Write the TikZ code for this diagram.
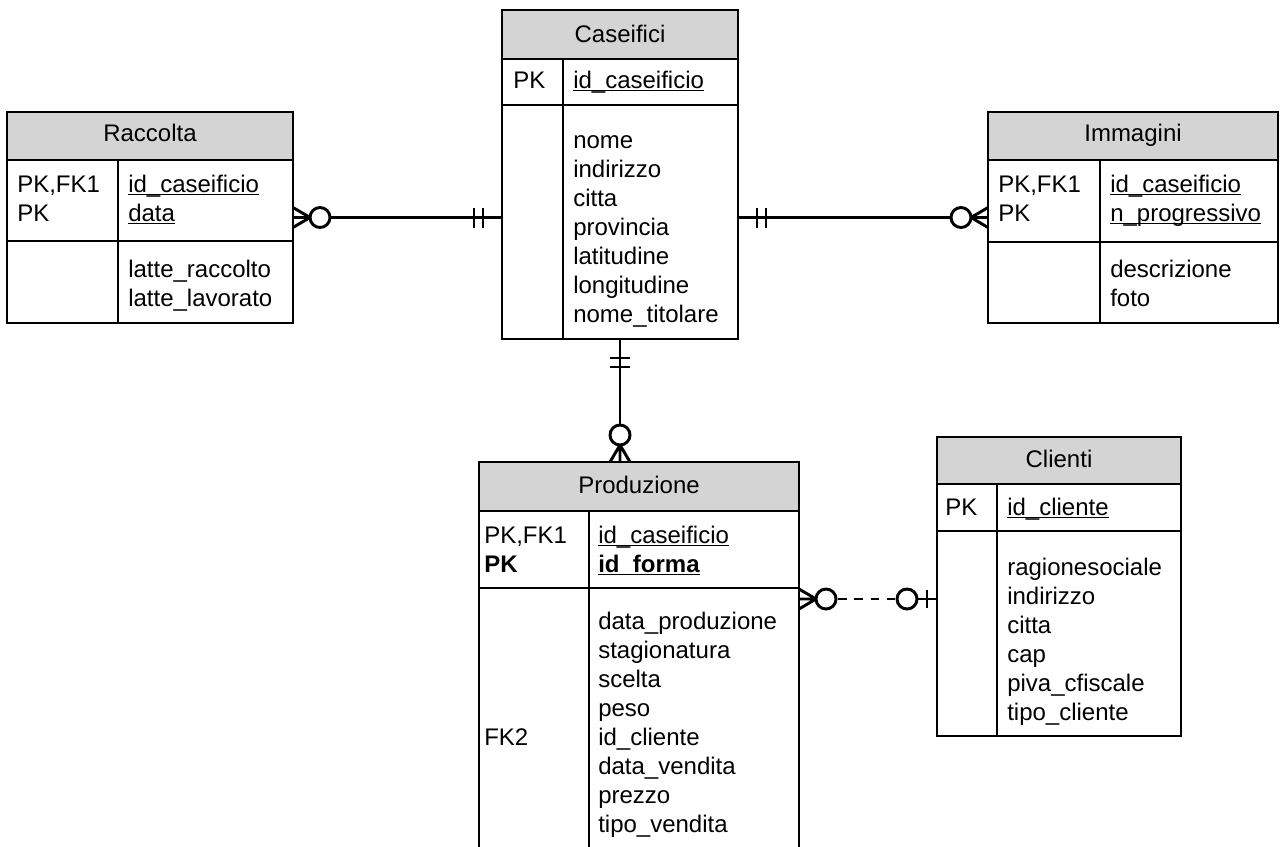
\documentclass[tikz,border=0pt]{standalone}
\usepackage{fontspec}
\setmainfont{Liberation Sans}
\usetikzlibrary{fit,calc}
\definecolor{hdrgray}{RGB}{212,212,212}
\newcommand\uln[1]{\setbox0\hbox{#1}\rlap{\rule[-2.6pt]{\wd0}{0.95pt}}\box0}
\newcommand\cells[1]{\begin{tabular}[t]{@{}l@{}}#1\end{tabular}}
\tikzset{
  boxline/.style={line width=1pt, draw=black},
  hdr/.style={fill=hdrgray},
  conn/.style={line width=2.2pt, draw=black},
  title/.style={anchor=base, inner sep=0pt},
  cell/.style={anchor=base west, inner sep=0pt},
  twobar/.pic={\draw[conn] (19,-10) -- (19,10) (28,-10) -- (28,10);},
  zmany/.pic={\draw[conn] (0,-10) -- (17,0) -- (0,10) (0,0) -- (17,0);
              \draw[conn, fill=white] (27,0) circle[radius=7.5pt];},
  zone/.pic={\draw[conn] (0,0) -- (20,0) (10,-9) -- (10,9);
             \draw[conn, fill=white] (30,0) circle[radius=7.5pt];},
}
% name, x1, y1, x2, y2, header bottom, key bottom, divider x
\newcommand\ertable[8]{%
  \fill[hdr] (#2,#3) rectangle (#4,#6);
  \draw[boxline] (#2,#6) -- (#4,#6) (#2,#7) -- (#4,#7) (#8,#6) -- (#8,#5);
  \node[boxline, fit={(#2,#3)(#4,#5)}, inner sep=0pt, outer sep=0pt] (#1) {};
}
\begin{document}
\begin{tikzpicture}[x=0.75pt, y=-0.75pt, font=\fontsize{18}{21.75}\selectfont]
\clip (0,0) rectangle (1280,846);
\fill[white] (0,0) rectangle (1280,846);

% Caseifici
\ertable{cas}{502}{10}{738}{339}{59}{105}{563}
\node[title] (casT) at (620,42) {Caseifici};
\node[cell] (casK) at (513,88) {PK};
\node[cell] (casP) at (573,88) {\uln{id\_caseificio}};
\node[cell] (casA) at (573,148) {\cells{nome\\indirizzo\\citta\\provincia\\latitudine\\longitudine\\nome\_titolare}};

% Raccolta
\ertable{rac}{7}{112}{293}{323}{160}{241}{118}
\node[title] (racT) at (150,141) {Raccolta};
\node[cell] (racK) at (17,192) {\cells{PK,FK1\\PK}};
\node[cell] (racP) at (128,192) {\cells{\uln{id\_caseificio}\\\uln{data}}};
\node[cell] (racA) at (128,277) {\cells{latte\_raccolto\\latte\_lavorato}};

% Immagini
\ertable{img}{988}{112}{1278}{323}{160}{242}{1100}
\node[title] (imgT) at (1133,141) {Immagini};
\node[cell] (imgK) at (998,192) {\cells{PK,FK1\\PK}};
\node[cell] (imgP) at (1110,192) {\cells{\uln{id\_caseificio}\\\uln{n\_progressivo}}};
\node[cell] (imgA) at (1110,277) {\cells{descrizione\\foto}};

% Clienti
\ertable{cli}{937}{437}{1181}{736}{484}{531}{997}
\node[title] (cliT) at (1059,467) {Clienti};
\node[cell] (cliK) at (945,515) {PK};
\node[cell] (cliP) at (1007,515) {\uln{id\_cliente}};
\node[cell] (cliA) at (1007,575) {\cells{ragionesociale\\indirizzo\\citta\\cap\\piva\_cfiscale\\tipo\_cliente}};

% Produzione
\ertable{prod}{479}{462}{799}{900}{511}{588}{589}
\node[title] (prodT) at (639,493) {Produzione};
\node[cell] (prodK) at (484,543) {\cells{PK,FK1\\\textbf{PK}}};
\node[cell] (prodP) at (598,543) {\cells{\uln{id\_caseificio}\\\uln{\textbf{id\_forma}}}};
\node[cell] (prodA) at (598,629) {\cells{data\_produzione\\stagionatura\\scelta\\peso\\id\_cliente\\data\_vendita\\prezzo\\tipo\_vendita}};
\node[cell] (prodF) at (484,745) {FK2};

% Raccolta -- Caseifici
\draw[conn] (rac.east) -- (rac.east -| cas.west);
\pic at (rac.east) {zmany};
\pic[rotate=180] at (rac.east -| cas.west) {twobar};

% Caseifici -- Immagini
\draw[conn] (img.west) -- (img.west -| cas.east);
\pic[rotate=180] at (img.west) {zmany};
\pic at (img.west -| cas.east) {twobar};

% Caseifici -- Produzione
\draw[conn] (cas.south) -- (cas.south |- prod.north);
\pic[rotate=-90] at (cas.south) {twobar};
\pic[rotate=90] at (cas.south |- prod.north) {zmany};

% Produzione -- Clienti
\coordinate (pc) at (799,599);
\draw[conn, dash pattern=on 6.4pt off 5.8pt] ($(pc)+(39,0)$) -- ($(pc -| cli.west)+(-41,0)$);
\pic at (pc) {zmany};
\pic[rotate=180] at (pc -| cli.west) {zone};
\end{tikzpicture}
\end{document}
